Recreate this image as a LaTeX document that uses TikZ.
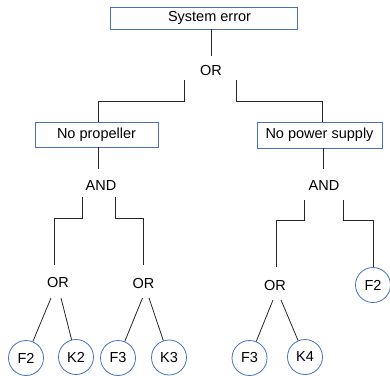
\documentclass[tikz,border=0pt]{standalone}
\usepackage{fontspec}
\setmainfont{Liberation Sans}
\usetikzlibrary{calc}
\definecolor{bbl}{RGB}{70,114,190}
\begin{document}
\begin{tikzpicture}[x=1pt,y=-1pt,
  txt/.style={font=\fontsize{14.5}{17}\selectfont},
  box/.style={txt, draw=bbl, line width=0.8pt, inner sep=0pt},
  gate/.style={txt, inner sep=0pt},
  leaf/.style={txt, draw=bbl, line width=0.8pt, circle, minimum size=35pt, inner sep=0pt},
  conn/.style={line width=0.8pt, black!85}]
\clip (0,0) rectangle (390,375);
% boxes
\node[box, minimum width=187pt, minimum height=22pt] (sys) at (203.5,18) {\hspace*{12pt}System error};
\node[box, minimum width=123pt, minimum height=25pt] (np) at (96.5,134.5) {No propeller};
\node[box, minimum width=125pt, minimum height=26pt] (nps) at (319.5,135) {No power supply};
% gates
\node[gate] (or1) at (211,71) {OR};
\node[gate] (and1) at (101,186) {AND};
\node[gate] (and2) at (324,186) {AND};
\node[gate] (or2) at (58,283) {OR};
\node[gate] (or3) at (143.5,284) {OR};
\node[gate] (or4) at (275,286) {OR};
% leaves
\node[leaf] (f2a) at (26,358) {F2};
\node[leaf] (k2) at (76,357) {K2};
\node[leaf] (f3a) at (118,358) {F3};
\node[leaf] (k3) at (169,357.5) {K3};
\node[leaf] (f3b) at (249.5,358) {F3};
\node[leaf] (k4) at (305,357) {K4};
\node[leaf] (f2b) at (373,285) {F2};
% connectors
\draw[conn] (sys.south -| or1) -- ($(or1)+(0,-15)$);
\draw[conn] ($(or1)+(-27,9)$) -- ++(0,21) -| ($(np.north)+(1.5,0)$);
\draw[conn] ($(or1)+(25,9)$) -- ++(0,21) -| ($(nps.north)+(3,0)$);
\draw[conn] ($(np.south)+(1.5,0)$) -- ($(and1)+(-3,-17)$);
\draw[conn] ($(nps.south)+(3.5,0)$) -- ($(and2)+(-1,-17)$);
\draw[conn] ($(and1)+(-19,11)$) -- ++(0,21) -| ($(or2)+(-4,-18)$);
\draw[conn] ($(and1)+(14,11)$) -- ++(0,21) -| ($(or3)+(-0.5,-19)$);
\draw[conn] ($(and2)+(-20,14)$) -- ++(0,20) -| ($(or4)+(1,-19)$);
\draw[conn] ($(and2)+(19,14)$) -- ++(0,20) -| (f2b.north);
\draw[conn] ($(or2)+(-7,15)$) -- (f2a);
\draw[conn] ($(or2)+(3,15)$) -- (k2);
\draw[conn] ($(or3)+(-1,14)$) -- (f3a);
\draw[conn] ($(or3)+(5.5,14)$) -- (k3);
\draw[conn] ($(or4)+(-2,14)$) -- (f3b);
\draw[conn] ($(or4)+(6,14)$) -- (k4);
\end{tikzpicture}
\end{document}
